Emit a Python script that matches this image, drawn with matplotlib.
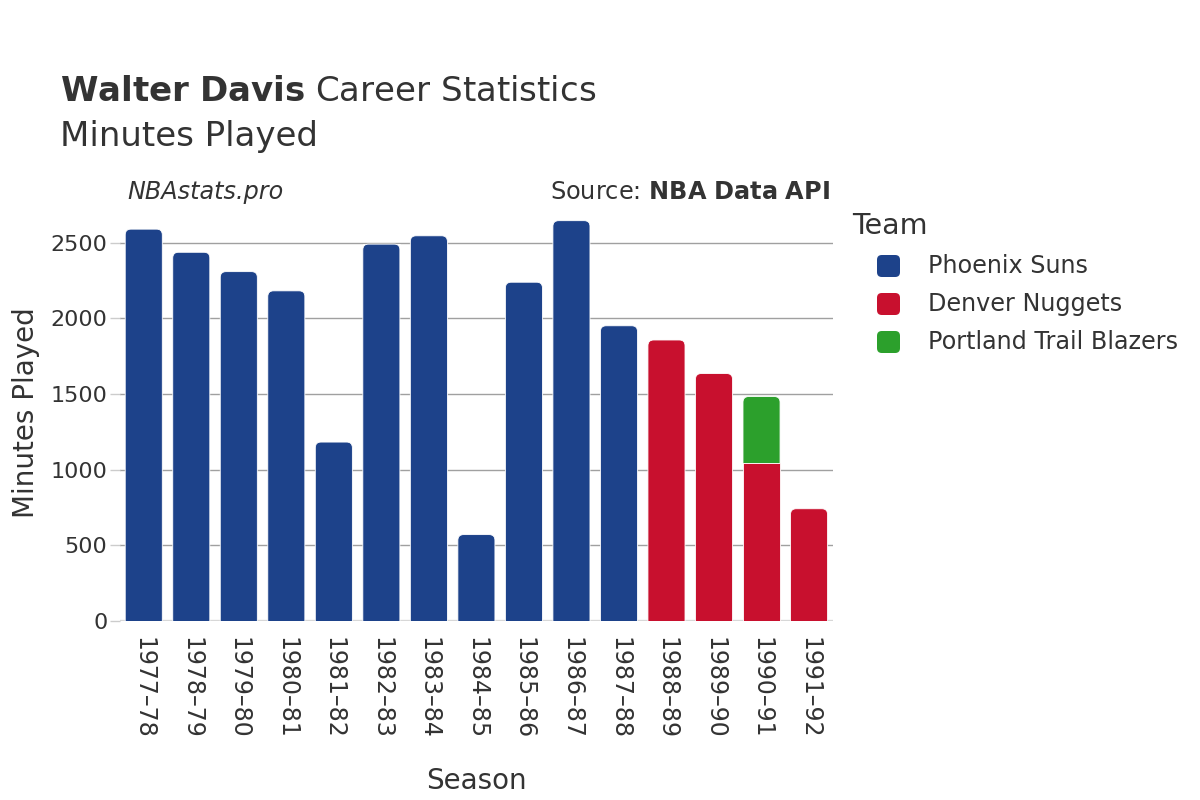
import matplotlib
matplotlib.use("Agg")
import matplotlib.pyplot as plt
from matplotlib.patches import FancyBboxPatch

# ----------------------------------------------------------
# Data
# ----------------------------------------------------------
seasons = ["1977–78", "1978–79", "1979–80", "1980–81", "1981–82",
           "1982–83", "1983–84", "1984–85", "1985–86", "1986–87",
           "1987–88", "1988–89", "1989–90", "1990–91", "1991–92"]

phoenix = [2590, 2437, 2309, 2182, 1182, 2491, 2546, 570, 2239, 2646,
           1951, 0, 0, 0, 0]
denver = [0, 0, 0, 0, 0, 0, 0, 0, 0, 0, 0, 1857, 1635, 1044, 741]
portland = [0, 0, 0, 0, 0, 0, 0, 0, 0, 0, 0, 0, 0, 439, 0]

teams = ["Phoenix Suns", "Denver Nuggets", "Portland Trail Blazers"]
colors = ["#1d428a", "#c8102e", "#2ca02c"]

TEXT = "#333333"

fig = plt.figure(figsize=(12, 8), dpi=100)
ax = fig.add_axes([0.1, 0.224, 0.594, 0.52])

x = list(range(len(seasons)))
bottoms = [0] * len(seasons)
all_bars = []
for vals, color in zip([phoenix, denver, portland], colors):
    bars = ax.bar(x, vals, width=0.78, bottom=bottoms, color=color,
                  edgecolor="white", linewidth=0.6, zorder=2)
    all_bars.append((bars, vals))
    bottoms = [b + v for b, v in zip(bottoms, vals)]

ax.set_xlim(-0.5, len(seasons) - 0.5)
ax.set_ylim(0, 2751)

# round the top corners of the topmost segment of each stack
fig.canvas.draw()
bbox = ax.get_window_extent()
aspect = (2751 / bbox.height) / (len(seasons) / bbox.width)
r = 0.12
for bars, vals in all_bars:
    for i, (bar, v) in enumerate(zip(bars, vals)):
        if v <= 0:
            continue
        y0 = bar.get_y()
        if abs(y0 + v - bottoms[i]) > 1e-6:
            continue
        bar.set_visible(False)
        ext = r * aspect * 2
        rp = FancyBboxPatch((bar.get_x(), y0 - ext), bar.get_width(),
                            v + ext,
                            boxstyle=f"round,pad=0,rounding_size={r}",
                            mutation_aspect=aspect,
                            facecolor=bar.get_facecolor(),
                            edgecolor="white", linewidth=0.6, zorder=2)
        ax.add_patch(rp)
        clip = plt.Rectangle((bar.get_x() - 0.05, y0), bar.get_width() + 0.1,
                             v + 100, transform=ax.transData)
        rp.set_clip_path(clip)

ax.set_yticks([0, 500, 1000, 1500, 2000, 2500])
ax.yaxis.grid(True, color="#a0a0a0", linewidth=1, zorder=0)
ax.axhline(0, color="#e5e5e5", linewidth=2.5, zorder=1)
for s in ax.spines.values():
    s.set_visible(False)
ax.tick_params(axis="y", length=7, color="#cccccc", width=1, labelsize=16,
               labelcolor=TEXT, pad=2)
ax.tick_params(axis="x", length=0, labelsize=17, labelcolor=TEXT, pad=12)
ax.set_xticks(x)
ax.set_xticklabels(seasons, rotation=-90, va="top", ha="center")

ax.set_xlabel("Season", fontsize=20, color=TEXT, labelpad=20)
ax.set_ylabel("Minutes Played", fontsize=20, color=TEXT, labelpad=8)

# titles
fig.text(0.05, 0.874, r"$\bf{Walter\ Davis}$ Career Statistics",
         fontsize=24.5, color=TEXT)
fig.text(0.05, 0.817, "Minutes Played", fontsize=24.5, color=TEXT)
fig.text(0.106, 0.751, "NBAstats.pro", fontsize=17.2, style="italic",
         color=TEXT)
fig.text(0.692, 0.751, r"Source: $\bf{NBA\ Data\ API}$", fontsize=17.3,
         color=TEXT, ha="right")

# legend
fig.text(852 / 1200, 1 - 226 / 800, "Team", fontsize=20.5, color=TEXT,
         va="center", ha="left")
for k, (t, c) in enumerate(zip(teams, colors)):
    yc = 1 - (266 + k * 38) / 800
    sq = FancyBboxPatch((877 / 1200, yc - 11 / 800), 23 / 1200, 22 / 800,
                        boxstyle="round,pad=0,rounding_size=0.004",
                        mutation_aspect=1.5, transform=fig.transFigure,
                        facecolor=c, edgecolor="none")
    fig.patches.append(sq)
    fig.text(928 / 1200, yc, t, fontsize=17.2, color=TEXT, va="center",
             ha="left")

fig.savefig("out.png", dpi=100)
